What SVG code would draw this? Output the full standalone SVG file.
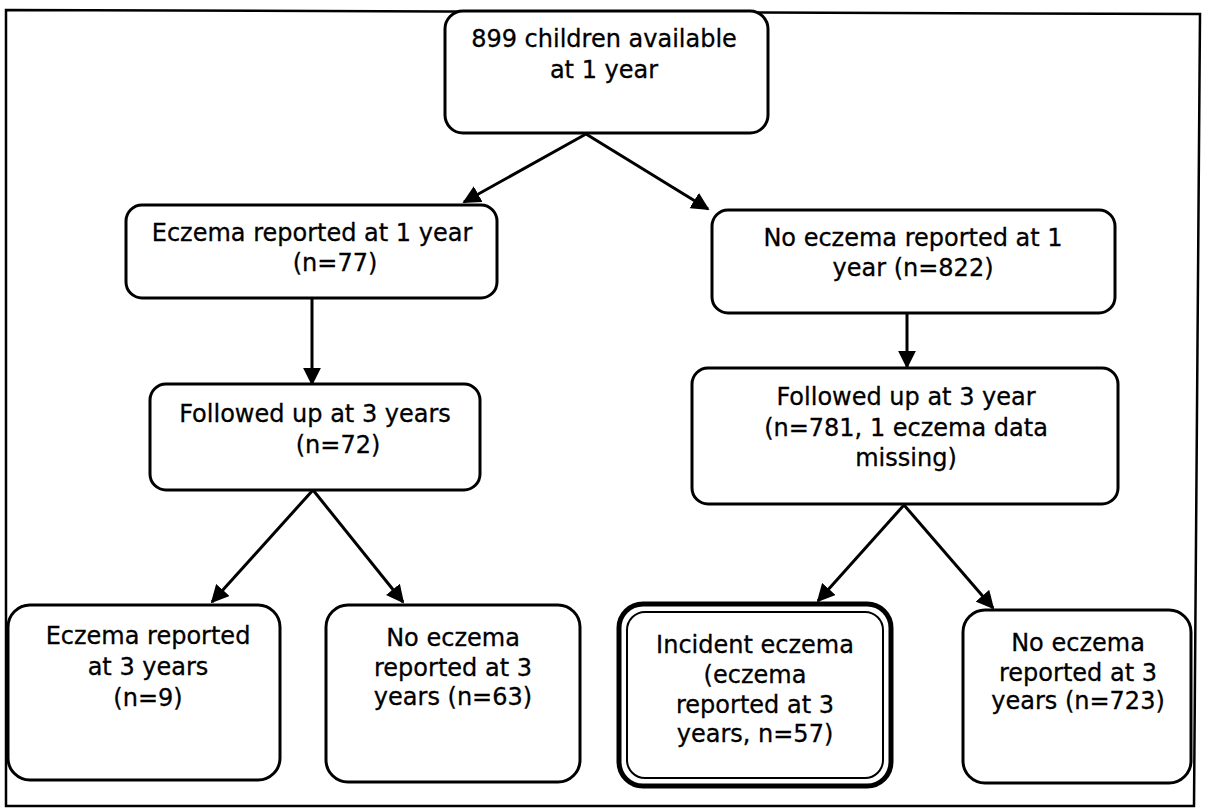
<svg xmlns="http://www.w3.org/2000/svg" width="1209" height="809" viewBox="0 0 1209 809">
<defs>
<marker id="ah" viewBox="0 0 10 10" refX="9" refY="5" markerWidth="6" markerHeight="6" markerUnits="strokeWidth" orient="auto">
<path d="M0,0 L10,5 L0,10 Z" fill="#000"/>
</marker>
<style>
.box{fill:#fff;stroke:#000;stroke-width:3}
.t{font-family:"DejaVu Sans","Verdana",sans-serif;font-size:24px;fill:#000;stroke:#000;stroke-width:0.3;text-anchor:middle}
.c{stroke:#000;stroke-width:3;fill:none;marker-end:url(#ah)}
</style>
</defs>
<rect width="1209" height="809" fill="#fff"/>
<path d="M6,10 L1200,14 L1194,806 L6,806 Z" fill="none" stroke="#000" stroke-width="2.5"/>
<g id="connectors">
<line class="c" x1="586" y1="134" x2="464" y2="202"/>
<line class="c" x1="586" y1="134" x2="708" y2="209"/>
<line class="c" x1="312" y1="299" x2="312" y2="384"/>
<line class="c" x1="907" y1="313" x2="907" y2="367"/>
<line class="c" x1="313" y1="490" x2="212" y2="602"/>
<line class="c" x1="313" y1="490" x2="403" y2="602"/>
<line class="c" x1="904" y1="505" x2="818" y2="601"/>
<line class="c" x1="904" y1="505" x2="993" y2="608"/>
</g>
<g id="n_top">
<rect class="box" x="445" y="11" width="323" height="122" rx="18"/>
<text class="t" x="604" y="47">899 children available</text>
<text class="t" x="604" y="78">at 1 year</text>
</g>
<g id="n_ecz1">
<rect class="box" x="126" y="205" width="371" height="93" rx="16"/>
<text class="t" x="312" y="241">Eczema reported at 1 year</text>
<text class="t" x="335" y="271">(n=77)</text>
</g>
<g id="n_noecz1">
<rect class="box" x="712" y="210" width="403" height="103" rx="16"/>
<text class="t" x="913" y="246">No eczema reported at 1</text>
<text class="t" x="913" y="276">year (n=822)</text>
</g>
<g id="n_fu3a">
<rect class="box" x="150" y="384" width="330" height="106" rx="16"/>
<text class="t" x="315" y="422">Followed up at 3 years</text>
<text class="t" x="338" y="453">(n=72)</text>
</g>
<g id="n_fu3b">
<rect class="box" x="692" y="368" width="426" height="136" rx="16"/>
<text class="t" x="906" y="405">Followed up at 3 year</text>
<text class="t" x="906" y="436">(n=781, 1 eczema data</text>
<text class="t" x="906" y="466">missing)</text>
</g>
<g id="n_ecz3">
<rect class="box" x="8" y="605" width="272" height="175" rx="22"/>
<text class="t" x="148" y="644">Eczema reported</text>
<text class="t" x="148" y="675">at 3 years</text>
<text class="t" x="148" y="706">(n=9)</text>
</g>
<g id="n_noecz3a">
<rect class="box" x="326" y="605" width="254" height="177" rx="22"/>
<text class="t" x="453" y="646">No eczema</text>
<text class="t" x="453" y="676">reported at 3</text>
<text class="t" x="453" y="705">years (n=63)</text>
</g>
<g id="n_incident">
<rect x="619" y="604" width="272" height="182" rx="24" fill="#fff" stroke="#000" stroke-width="5"/>
<rect x="627" y="612" width="256" height="166" rx="18" fill="none" stroke="#000" stroke-width="2"/>
<text class="t" x="755" y="653">Incident eczema</text>
<text class="t" x="755" y="683">(eczema</text>
<text class="t" x="755" y="713">reported at 3</text>
<text class="t" x="755" y="742">years, n=57)</text>
</g>
<g id="n_noecz3b">
<rect class="box" x="963" y="610" width="228" height="173" rx="22"/>
<text class="t" x="1078" y="651">No eczema</text>
<text class="t" x="1078" y="681">reported at 3</text>
<text class="t" x="1078" y="709">years (n=723)</text>
</g>
</svg>
